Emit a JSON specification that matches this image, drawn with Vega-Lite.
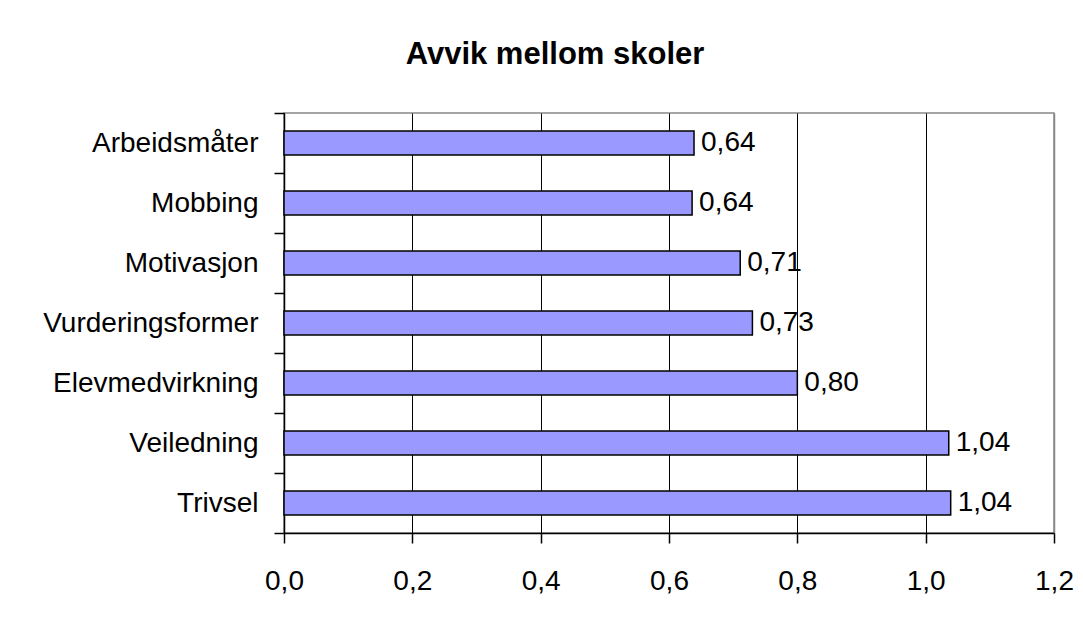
{
  "$schema": "https://vega.github.io/schema/vega-lite/v6.json",
  "autosize": {"type": "none"},
  "width": 770,
  "height": 420,
  "padding": {"left": 284, "top": 113, "right": 29, "bottom": 84},
  "background": "white",
  "title": {
    "text": "Avvik mellom skoler",
    "anchor": "middle",
    "frame": "group",
    "dx": -114,
    "offset": 4,
    "baseline": "alphabetic",
    "font": "Liberation Sans",
    "fontSize": 31,
    "fontWeight": "bold",
    "color": "black"
  },
  "data": {
    "values": [
      {"kategori": "Arbeidsmåter", "avvik": 0.639},
      {"kategori": "Mobbing", "avvik": 0.636},
      {"kategori": "Motivasjon", "avvik": 0.711},
      {"kategori": "Vurderingsformer", "avvik": 0.730},
      {"kategori": "Elevmedvirkning", "avvik": 0.800},
      {"kategori": "Veiledning", "avvik": 1.036},
      {"kategori": "Trivsel", "avvik": 1.039}
    ]
  },
  "encoding": {
    "y": {
      "field": "kategori",
      "type": "nominal",
      "sort": null,
      "scale": {"paddingInner": 0, "paddingOuter": 0},
      "axis": {
        "title": null,
        "grid": false,
        "tickBand": "extent",
        "tickSize": 10,
        "tickColor": "black",
        "tickWidth": 1.5,
        "domainColor": "black",
        "domainWidth": 1.5,
        "labelPadding": 16,
        "labelLimit": 0,
        "labelFont": "Liberation Sans",
        "labelFontSize": 28,
        "labelColor": "black"
      }
    },
    "x": {
      "field": "avvik",
      "type": "quantitative",
      "scale": {"domain": [0, 1.2], "nice": false, "zero": true},
      "axis": {
        "title": null,
        "values": [0, 0.2, 0.4, 0.6, 0.8, 1.0, 1.2],
        "format": ".1f",
        "grid": true,
        "gridColor": {"condition": {"test": "datum.value >= 1.19", "value": "#888888"}, "value": "black"},
        "gridWidth": {"condition": {"test": "datum.value >= 1.19", "value": 1.5}, "value": 1},
        "tickSize": 10,
        "tickColor": "black",
        "tickWidth": 1.5,
        "domainColor": "black",
        "domainWidth": 1.5,
        "labelPadding": 24,
        "labelFont": "Liberation Sans",
        "labelFontSize": 28,
        "labelColor": "black",
        "labelFlush": false
      }
    }
  },
  "layer": [
    {
      "mark": {
        "type": "bar",
        "height": {"band": 0.4},
        "fill": "#9999FF",
        "stroke": "black",
        "strokeWidth": 1.5
      }
    },
    {
      "mark": {
        "type": "text",
        "align": "left",
        "baseline": "middle",
        "dx": 7,
        "font": "Liberation Sans",
        "fontSize": 28,
        "color": "black"
      },
      "encoding": {
        "text": {"field": "avvik", "type": "quantitative", "format": ".2f"}
      }
    }
  ],
  "config": {
    "locale": {
      "number": {
        "decimal": ",",
        "thousands": " ",
        "grouping": [3],
        "currency": ["", " kr"]
      }
    },
    "view": {"stroke": "#888888", "strokeWidth": 1.5}
  }
}
